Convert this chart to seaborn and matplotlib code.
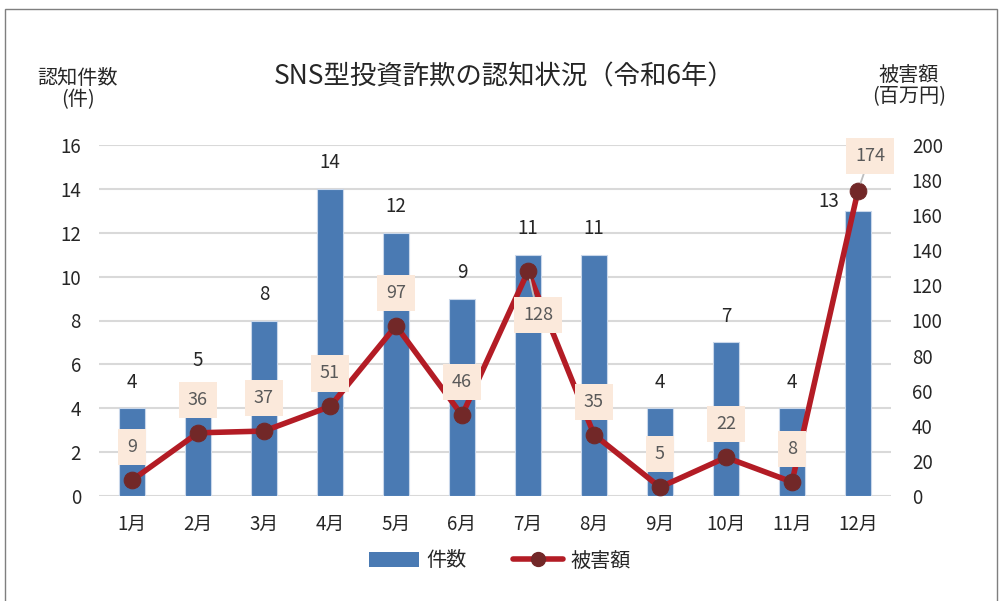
import numpy as np
import matplotlib
matplotlib.use("Agg")
import matplotlib.pyplot as plt
import seaborn as sns
from matplotlib.patches import Rectangle, Patch
from matplotlib.lines import Line2D

sns.set_style("white")
plt.rcParams['font.family'] = ['Noto Sans CJK JP', 'DejaVu Sans']

months = ['1月', '2月', '3月', '4月', '5月', '6月', '7月', '8月', '9月', '10月', '11月', '12月']
counts = [4, 5, 8, 14, 12, 9, 11, 11, 4, 7, 4, 13]
damage = [9, 36, 37, 51, 97, 46, 128, 35, 5, 22, 8, 174]

bar_color = '#4a7ab3'
line_color = '#b31c25'
marker_color = '#722828'
box_color = '#fbe9db'
text_color = '#262626'

fig = plt.figure(figsize=(10.03, 6.01), dpi=100)
ax = fig.add_axes([99 / 1003, 1 - 496 / 601, 792 / 1003, 351 / 601])

sns.barplot(x=months, y=counts, color=bar_color, saturation=1, width=0.4,
            edgecolor='#c9d7ea', linewidth=0.8, ax=ax)
ax.set_xlim(-0.5, 11.5)
ax.set_ylim(0, 16)
ax.set_yticks(np.arange(0, 17, 2))
ax.yaxis.grid(True, color='#d9d9d9', lw=1.5)
ax.set_axisbelow(True)
ax.set_xlabel('')
ax.set_ylabel('')
for s in ax.spines.values():
    s.set_visible(False)
ax.tick_params(axis='both', length=0, labelsize=13.5, colors=text_color)
ax.tick_params(axis='y', pad=13)
ax.tick_params(axis='x', pad=13)

# count labels (last one sits left of the bar)
for i, c in enumerate(counts):
    dx, dy = (-29, 9) if i == 11 else (0, 26)
    ax.annotate(str(c), (i, c), xytext=(dx, dy), textcoords='offset pixels',
                ha='center', va='center', fontsize=13.5, color=text_color)

ax2 = ax.twinx()
sns.lineplot(x=np.arange(12), y=damage, ax=ax2, color=line_color, lw=4,
             marker='o', markersize=12, markerfacecolor=marker_color,
             markeredgecolor=marker_color, zorder=3)
ax2.set_ylim(0, 200)
ax2.set_yticks(np.arange(0, 201, 20))
ax2.set_xlim(-0.5, 11.5)
ax2.set_ylabel('')
for s in ax2.spines.values():
    s.set_visible(False)
ax2.tick_params(axis='y', length=0, labelsize=13.5, colors=text_color, pad=15)

offsets = {6: (10, -44), 11: (12, 35)}
for i, v in enumerate(damage):
    dx, dy = offsets.get(i, (0, 33))
    kw = {}
    if i in offsets:
        kw['arrowprops'] = dict(arrowstyle='-', color='#bfbfbf', lw=1.3, shrinkA=0, shrinkB=6)
    ax2.annotate(str(v), (i, v), xytext=(dx, dy), textcoords='offset pixels',
                 ha='center', va='center', fontsize=13, color='#595959',
                 bbox=dict(boxstyle='square,pad=0.5', fc=box_color, ec='none'),
                 zorder=5, **kw)

fig.text(504 / 1003, 1 - 77 / 601, 'SNS型投資詐欺の認知状況（令和6年）', ha='center', va='center',
         fontsize=19, color=text_color)
fig.text(78 / 1003, 1 - 89 / 601, '認知件数\n(件)', ha='center', va='center',
         fontsize=14.5, color=text_color, linespacing=1.05)
fig.text(909 / 1003, 1 - 86 / 601, '被害額\n(百万円)', ha='center', va='center',
         fontsize=14.5, color=text_color, linespacing=1.05)

handles = [Patch(facecolor=bar_color, edgecolor='none', label='件数'),
           Line2D([0], [0], color=line_color, lw=4, marker='o', markersize=10,
                  markerfacecolor=marker_color, markeredgecolor=marker_color, label='被害額')]
fig.legend(handles=handles, loc='center', bbox_to_anchor=(500 / 1003, 1 - 561 / 601), ncol=2,
           frameon=False, fontsize=14.5, handlelength=2.5, columnspacing=2.3, handletextpad=0.35,
           labelcolor=text_color)

fig.patches.append(Rectangle((5 / 1003, -0.05), 992 / 1003, 0.05 + 1 - 9 / 601,
                             transform=fig.transFigure, fill=False, ec='#7f7f7f', lw=1))

fig.savefig('out.png', dpi=100)
